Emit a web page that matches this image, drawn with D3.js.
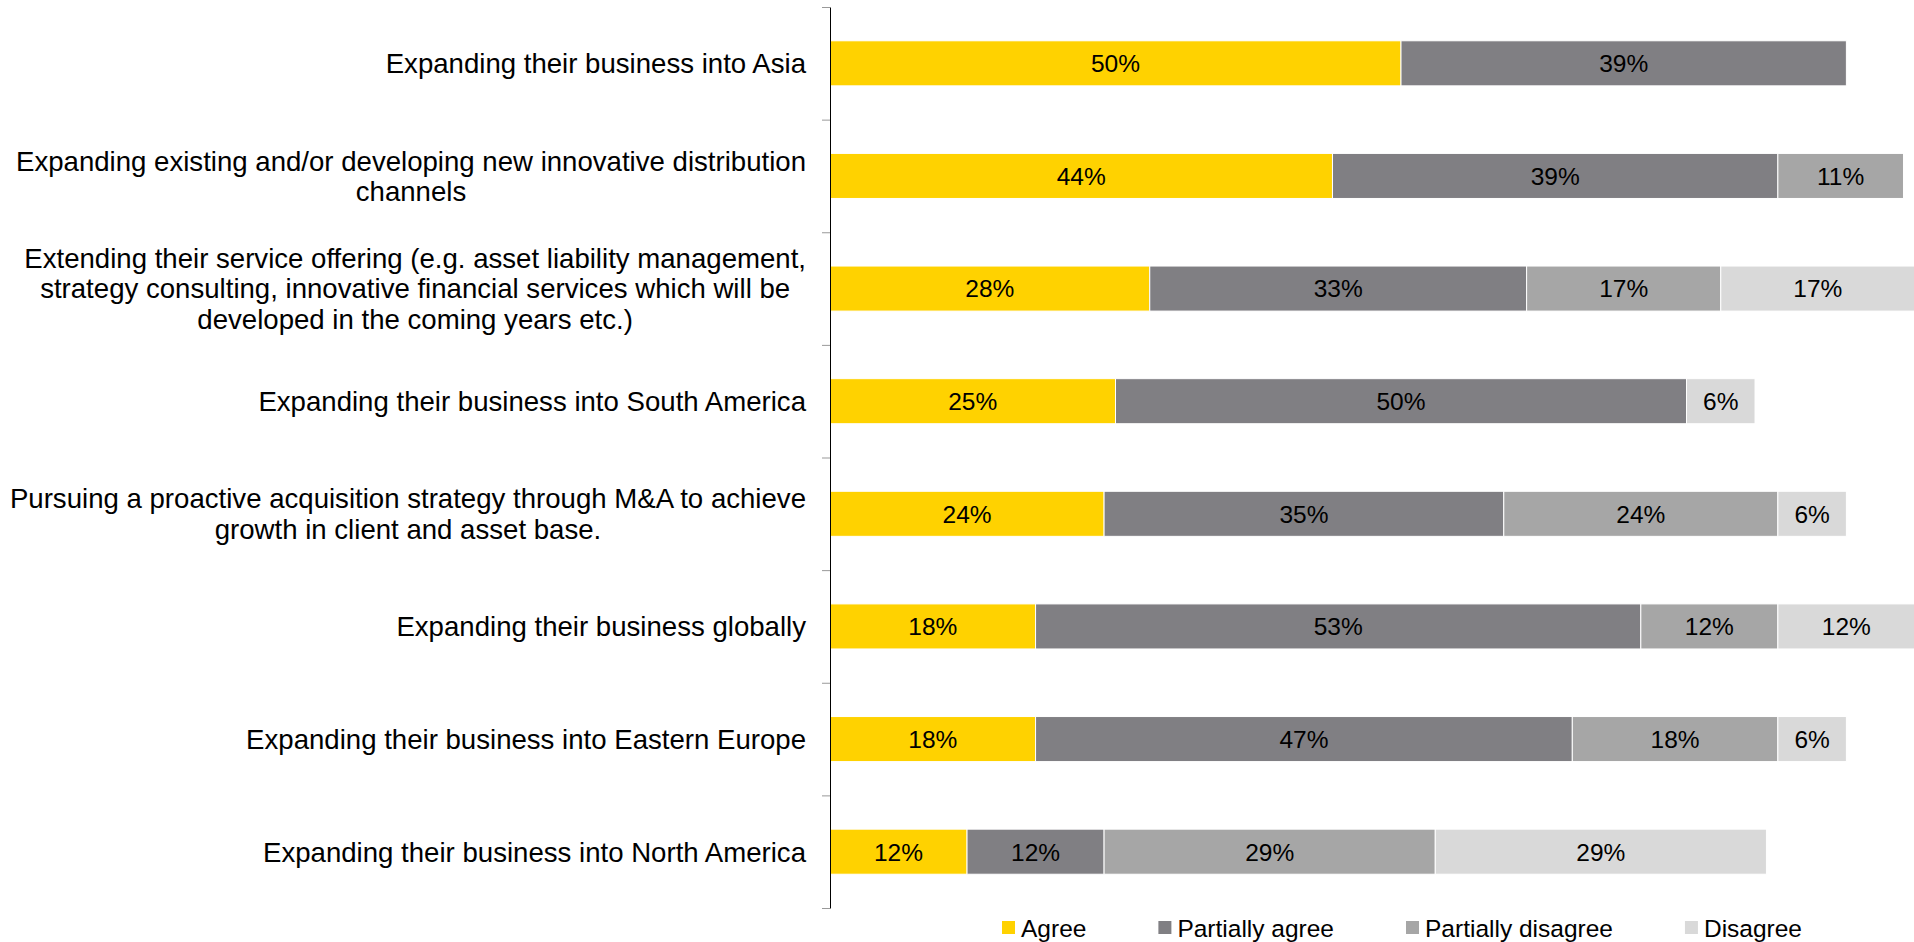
<!DOCTYPE html>
<html>
<head>
<meta charset="utf-8">
<script src="https://cdn.jsdelivr.net/npm/d3@7"></script>
<style>
  html, body { margin: 0; padding: 0; background: #fff; overflow: hidden; }
  svg { display: block; }
  text { font-family: "Liberation Sans", Arial, sans-serif; fill: #000; }
</style>
</head>
<body>
<svg id="chart" width="1914" height="942"></svg>
<script>
// Survey statements, top to bottom ("\n" marks a line break in the label)
const categories = [
  "Expanding their business into Asia",
  "Expanding existing and/or developing new innovative distribution\nchannels",
  "Extending their service offering (e.g. asset liability management,\nstrategy consulting, innovative financial services which will be\ndeveloped in the coming years etc.)",
  "Expanding their business into South America",
  "Pursuing a proactive acquisition strategy through M&A to achieve\ngrowth in client and asset base.",
  "Expanding their business globally",
  "Expanding their business into Eastern Europe",
  "Expanding their business into North America"
];

const seriesNames = ["Agree", "Partially agree", "Partially disagree", "Disagree"];

// Share of respondents (%) per answer, in category order
const agree             = [50, 44, 28, 25, 24, 18, 18, 12];
const partiallyAgree    = [39, 39, 33, 50, 35, 53, 47, 12];
const partiallyDisagree = [ 0, 11, 17,  0, 24, 12, 18, 29];
const disagree          = [ 0,  0, 17,  6,  6, 12,  6, 29];

const seriesColors = ["#FFD200", "#807F83", "#A6A6A6", "#D9D9D9"];

// ---- layout ----
const svg = d3.select("#chart");
const axisX = 830, plotTop = 7, plotBottom = 908;

const rows = categories.map((c, i) => ({
  category: c,
  "Agree": agree[i],
  "Partially agree": partiallyAgree[i],
  "Partially disagree": partiallyDisagree[i],
  "Disagree": disagree[i]
}));

const stacked = d3.stack().keys(seriesNames)(rows);

const x = d3.scaleLinear().domain([0, 100]).range([axisX, axisX + 1142]);
const y = d3.scaleBand().domain(categories).range([plotTop, plotBottom])
  .paddingInner(0.6).paddingOuter(0.3);
const color = d3.scaleOrdinal().domain(seriesNames).range(seriesColors);

// ---- bars ----
const layer = svg.append("g").selectAll("g")
  .data(stacked).join("g")
  .attr("fill", d => color(d.key));

layer.selectAll("rect")
  .data(d => d.map(p => ({ key: d.key, p })).filter(d => d.p[1] - d.p[0] > 0))
  .join("rect")
  .attr("x", d => x(d.p[0]))
  .attr("y", d => y(d.p.data.category))
  .attr("width", d => x(d.p[1]) - x(d.p[0]))
  .attr("height", y.bandwidth())
  .attr("stroke", "#fff")
  .attr("stroke-width", 1);

// ---- value labels ----
const valueFont = 24.5;
layer.selectAll("text")
  .data(d => d.map(p => ({ key: d.key, p })).filter(d => d.p[1] - d.p[0] > 0))
  .join("text")
  .attr("x", d => (x(d.p[0]) + x(d.p[1])) / 2)
  .attr("y", d => y(d.p.data.category) + y.bandwidth() / 2 + valueFont * 0.36)
  .attr("text-anchor", "middle")
  .style("font-size", valueFont + "px")
  .text(d => (d.p[1] - d.p[0]) + "%");

// ---- category axis ----
const yEdges = d3.scaleLinear().domain([0, categories.length]).range([plotTop, plotBottom]);
const axis = svg.append("g")
  .attr("transform", `translate(${axisX},0)`)
  .call(d3.axisLeft(yEdges)
    .tickValues(d3.range(categories.length + 1))
    .tickSize(8).tickSizeOuter(0).tickFormat(""));
axis.select(".domain").attr("stroke", "#000").attr("stroke-width", 1);
axis.selectAll(".tick line").attr("stroke", "#999").attr("stroke-width", 1);

// ---- category labels (centred block, right aligned to the axis) ----
const labelFont = 27.6, lineH = 30.5, labelRight = 806;
const labels = svg.append("g");
categories.forEach(c => {
  const lines = c.split("\n");
  const cy = y(c) + y.bandwidth() / 2;
  const g = labels.append("g");
  const texts = lines.map((ln, i) => g.append("text")
    .attr("y", cy + (i - (lines.length - 1) / 2) * lineH + labelFont * 0.36)
    .attr("text-anchor", "middle")
    .style("font-size", labelFont + "px")
    .text(ln));
  const w = d3.max(texts, t => t.node().getComputedTextLength());
  texts.forEach(t => t.attr("x", labelRight - w / 2));
});

// ---- legend ----
const legendFont = 24.5;
const legend = svg.append("g");
let lx = 1002;
seriesNames.forEach(name => {
  const g = legend.append("g").attr("transform", `translate(${lx},0)`);
  g.append("rect").attr("x", 0).attr("y", 921).attr("width", 13).attr("height", 13)
    .attr("fill", color(name));
  const t = g.append("text").attr("x", 19).attr("y", 937)
    .style("font-size", legendFont + "px").text(name);
  lx += 19 + t.node().getComputedTextLength() + 72;
});
</script>
</body>
</html>
